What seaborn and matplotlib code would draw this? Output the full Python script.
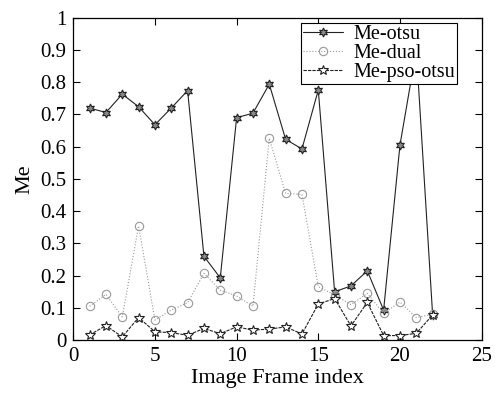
import matplotlib
matplotlib.use('Agg')
import matplotlib.pyplot as plt
import numpy as np
import seaborn as sns

frames = list(range(1, 23))
me_otsu = [0.72, 0.706, 0.763, 0.724, 0.668, 0.72, 0.774, 0.26, 0.193, 0.69, 0.704,
           0.794, 0.623, 0.593, 0.776, 0.15, 0.168, 0.215, 0.093, 0.605, 0.90, 0.078]
me_dual = [0.105, 0.142, 0.072, 0.354, 0.062, 0.093, 0.116, 0.207, 0.155, 0.137, 0.105,
           0.626, 0.455, 0.452, 0.166, 0.14, 0.11, 0.145, 0.083, 0.118, 0.07, 0.08]
me_pso_otsu = [0.016, 0.045, 0.01, 0.07, 0.026, 0.023, 0.015, 0.036, 0.02, 0.041, 0.031,
               0.034, 0.041, 0.019, 0.112, 0.129, 0.044, 0.117, 0.014, 0.014, 0.021, 0.078]

sns.set_theme(style='white')
plt.rcParams['font.family'] = ['Liberation Serif', 'DejaVu Serif']

fig = plt.figure(figsize=(4.95, 3.95), dpi=100)
ax = fig.add_axes([0.148, 0.139, 0.825, 0.816])

sns.lineplot(x=frames, y=me_otsu, ax=ax, color='#222222', lw=0.8,
             marker=(6, 1, 0), markersize=6.5, markerfacecolor='#888888',
             markeredgecolor='#222222', markeredgewidth=0.8, label='Me-otsu')
sns.lineplot(x=frames, y=me_dual, ax=ax, color='#999999', lw=0.8, linestyle=':',
             marker='o', markersize=6, markerfacecolor='none',
             markeredgecolor='#999999', markeredgewidth=0.8, label='Me-dual')
sns.lineplot(x=frames, y=me_pso_otsu, ax=ax, color='#222222', lw=0.8, linestyle=(0, (3, 1)),
             marker='*', markersize=7.5, markerfacecolor='white',
             markeredgecolor='#222222', markeredgewidth=0.8, label='Me-pso-otsu')

ax.set_xlim(0, 25)
ax.set_ylim(0, 1)
ax.set_xticks([0, 5, 10, 15, 20, 25])
ax.set_yticks(np.round(np.arange(0, 1.01, 0.1), 1))
ax.set_yticklabels(['0', '0.1', '0.2', '0.3', '0.4', '0.5', '0.6', '0.7', '0.8', '0.9', '1'])
ax.tick_params(direction='in', length=5, width=0.8, top=True, right=True,
               bottom=True, left=True, labelsize=15, colors='black', pad=5)
for s in ax.spines.values():
    s.set_color('black')
    s.set_linewidth(0.9)
ax.set_xlabel('Image Frame index', fontsize=16, color='black', labelpad=2)
ax.set_ylabel('Me', fontsize=16, color='black', labelpad=4)

leg = ax.legend(loc='upper right', bbox_to_anchor=(0.94, 0.984), borderaxespad=0,
                fontsize=14.5, frameon=True, fancybox=False, edgecolor='black',
                framealpha=1, handlelength=2.0, handletextpad=0.5, borderpad=0.1,
                labelspacing=0.0)
leg.get_frame().set_linewidth(0.8)
leg.set_zorder(10)
for t in leg.get_texts():
    t.set_color('black')

fig.savefig('out.png', dpi=100)
